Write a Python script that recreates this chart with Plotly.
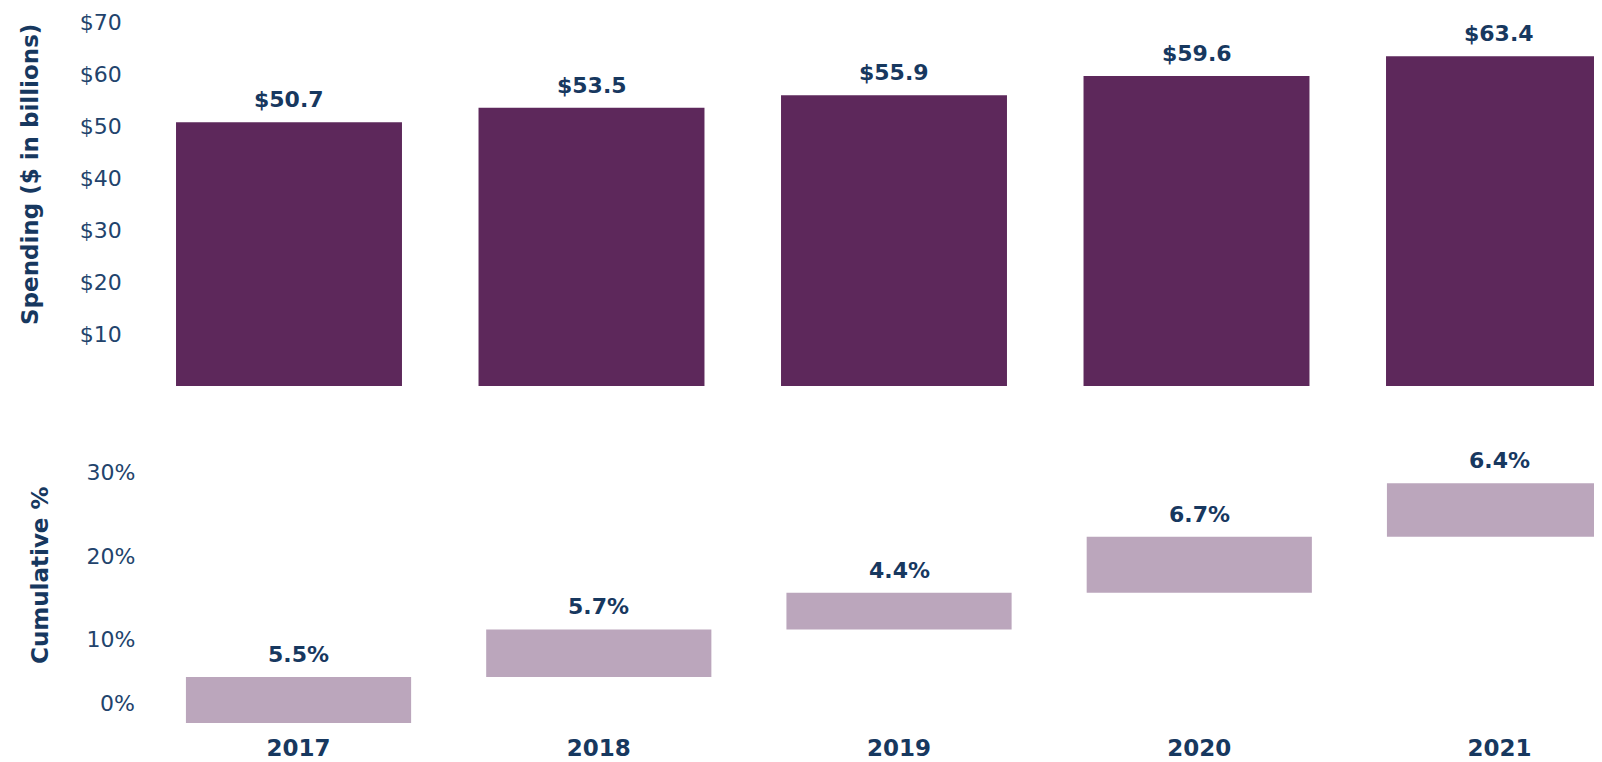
import plotly.graph_objects as go

years = ["2017", "2018", "2019", "2020", "2021"]
spending = [50.7, 53.5, 55.9, 59.6, 63.4]          # $ in billions
growth_pct = [5.5, 5.7, 4.4, 6.7, 6.4]             # yearly growth, %
spend_ticks = [10, 20, 30, 40, 50, 60, 70]
pct_ticks = [10, 20, 30]

# cumulative bases for floating bars
bases = []
acc = 0.0
for g in growth_pct:
    bases.append(acc)
    acc += g

# page body has an 8px margin; figure sized to fill the rest of the window
OFF = 8
W, H = 1602 - OFF, 762 - OFF
def px(x):
    return (x - OFF) / W
def py(y):
    return 1 - (y - OFF) / H

PURPLE = "#5D285B"
MAUVE = "#BBA6BC"
NAVY = "#17385F"
TICK = "#22436C"
FONT = "DejaVu Sans"

TOP_ZERO, TOP_SCALE = 386, 5.2       # px of $0, px per $1B
BOT_ZERO, BOT_SCALE = 723, 8.35      # px of 0%, px per 1%
BOT_TOP = 430

fig = go.Figure()
fig.add_trace(go.Bar(x=years, y=spending, marker_color=PURPLE, width=0.747,
                     xaxis="x", yaxis="y", showlegend=False, hoverinfo="skip"))
fig.add_trace(go.Bar(x=years, y=growth_pct, base=bases, marker_color=MAUVE, width=0.75,
                     xaxis="x2", yaxis="y2", showlegend=False, hoverinfo="skip"))

ann = []
for i, v in enumerate(spending):
    ann.append(dict(x=i, y=v, xref="x", yref="y", text=f"<b>${v:.1f}</b>",
                    showarrow=False, yanchor="bottom", yshift=8,
                    font=dict(family=FONT, size=22, color=NAVY)))
for i, (b, g) in enumerate(zip(bases, growth_pct)):
    ann.append(dict(x=i, y=b + g, xref="x2", yref="y2", text=f"<b>{g:.1f}%</b>",
                    showarrow=False, yanchor="bottom", yshift=8,
                    font=dict(family=FONT, size=22, color=NAVY)))
# displaced 0% tick label
ann.append(dict(x=px(148.4), y=0, xref="paper", yref="y2", text="0%",
                showarrow=False, xanchor="right", yanchor="middle", xshift=-11, yshift=20,
                font=dict(family=FONT, size=22, color=TICK)))
# axis titles
ann.append(dict(x=px(30), y=py(175), xref="paper", yref="paper",
                text="<b>Spending ($ in billions)</b>", textangle=-90, showarrow=False,
                xanchor="center", yanchor="middle",
                font=dict(family=FONT, size=23, color=NAVY)))
ann.append(dict(x=px(40), y=py(575), xref="paper", yref="paper",
                text="<b>Cumulative %</b>", textangle=-90, showarrow=False,
                xanchor="center", yanchor="middle",
                font=dict(family=FONT, size=23, color=NAVY)))

fig.update_layout(
    template="none",
    width=W, height=H,
    margin=dict(l=0, r=0, t=0, b=0),
    paper_bgcolor="white", plot_bgcolor="white",
    showlegend=False,
    annotations=ann,
    xaxis=dict(domain=[px(137.75), 1], type="category",
               range=[-0.5, -0.5 + (1602 - 137.75) / 302.5],
               showticklabels=False, showgrid=False, zeroline=False, showline=False,
               ticks="", automargin=False, fixedrange=True),
    yaxis=dict(domain=[py(TOP_ZERO), 1], range=[0, (TOP_ZERO - OFF) / TOP_SCALE],
               tickvals=spend_ticks, ticktext=[f"${t}" for t in spend_ticks],
               showgrid=False, zeroline=False, showline=False, ticks="",
               ticklabelstandoff=15, automargin=False,
               tickfont=dict(family=FONT, size=22, color=TICK)),
    xaxis2=dict(domain=[px(148.4), 1], type="category",
                range=[-0.5, -0.5 + (1602 - 148.4) / 300.25], anchor="y2",
                showgrid=False, zeroline=False, showline=False, ticks="",
                ticklabelstandoff=9, automargin=False,
                tickfont=dict(family=FONT, size=23, color=NAVY),
                tickvals=years, ticktext=[f"<b>{y}</b>" for y in years]),
    yaxis2=dict(domain=[py(BOT_ZERO), py(BOT_TOP)],
                range=[0, (BOT_ZERO - BOT_TOP) / BOT_SCALE],
                anchor="x2", tickvals=pct_ticks, ticktext=[f"{t}%" for t in pct_ticks],
                showgrid=False, zeroline=False, showline=False, ticks="",
                ticklabelstandoff=12, automargin=False,
                tickfont=dict(family=FONT, size=22, color=TICK)),
)

fig.write_html("out.html")
